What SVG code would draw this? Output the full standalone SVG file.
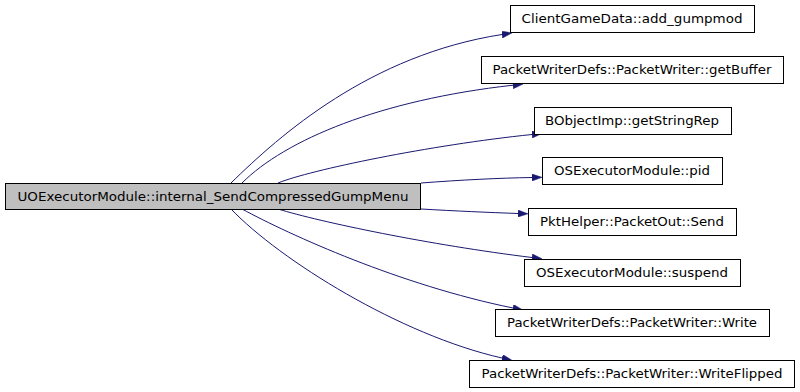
<svg xmlns="http://www.w3.org/2000/svg" width="800" height="392" viewBox="0 0 800 392">
<style>
.box{fill:#ffffff;stroke:#000000;stroke-width:1}
.main{fill:#bfbfbf;stroke:#000000;stroke-width:1}
.lbl{font-family:"DejaVu Sans",sans-serif;font-size:12.5px;fill:#000000;text-anchor:middle}
.edge{fill:none;stroke:#191970;stroke-width:1}
</style>
<defs>
<marker id="arr" viewBox="0 0 10 7" refX="0" refY="3.5" markerWidth="10" markerHeight="7" markerUnits="userSpaceOnUse" orient="auto">
<path d="M0,0 L10,3.5 L0,7 z" fill="#191970" stroke="#191970" stroke-width="0.5"/>
</marker>
</defs>
<rect x="0" y="0" width="800" height="392" fill="#ffffff"/>
<g id="connectors">
<path class="edge" marker-end="url(#arr)" d="M231,183 C280,135 370,55 502,34.5"/>
<path class="edge" marker-end="url(#arr)" d="M242,183 C285,140 380,100 513,85.2"/>
<path class="edge" marker-end="url(#arr)" d="M278,183 C310,170 430,145 532,134.5"/>
<path class="edge" marker-end="url(#arr)" d="M421,183 C460,180 500,178 532,177.5"/>
<path class="edge" marker-end="url(#arr)" d="M421,209 C455,211 490,212.5 518,213.5"/>
<path class="edge" marker-end="url(#arr)" d="M278,209 C320,222 430,245 532,257.5"/>
<path class="edge" marker-end="url(#arr)" d="M242,209 C290,235 400,285 513,308"/>
<path class="edge" marker-end="url(#arr)" d="M231,209 C280,260 400,335 502,358"/>
</g>
<g id="node-main">
<rect class="main" x="5.5" y="183.5" width="415" height="26"/>
<text class="lbl" x="213" y="201" textLength="391" lengthAdjust="spacingAndGlyphs">UOExecutorModule::internal_SendCompressedGumpMenu</text>
</g>
<g id="node-add_gumpmod">
<rect class="box" x="510.5" y="5.5" width="244" height="27"/>
<text class="lbl" x="632" y="23" textLength="221" lengthAdjust="spacingAndGlyphs">ClientGameData::add_gumpmod</text>
</g>
<g id="node-getBuffer">
<rect class="box" x="481.5" y="56.5" width="302" height="27"/>
<text class="lbl" x="632" y="74" textLength="279" lengthAdjust="spacingAndGlyphs">PacketWriterDefs::PacketWriter::getBuffer</text>
</g>
<g id="node-getStringRep">
<rect class="box" x="534.5" y="107.5" width="197" height="27"/>
<text class="lbl" x="632" y="125" textLength="174" lengthAdjust="spacingAndGlyphs">BObjectImp::getStringRep</text>
</g>
<g id="node-pid">
<rect class="box" x="542.5" y="157.5" width="180" height="27"/>
<text class="lbl" x="632" y="175" textLength="156" lengthAdjust="spacingAndGlyphs">OSExecutorModule::pid</text>
</g>
<g id="node-send">
<rect class="box" x="528.5" y="208.5" width="208" height="27"/>
<text class="lbl" x="632" y="226" textLength="184" lengthAdjust="spacingAndGlyphs">PktHelper::PacketOut::Send</text>
</g>
<g id="node-suspend">
<rect class="box" x="524.5" y="259.5" width="216" height="27"/>
<text class="lbl" x="632" y="277" textLength="192" lengthAdjust="spacingAndGlyphs">OSExecutorModule::suspend</text>
</g>
<g id="node-write">
<rect class="box" x="495.5" y="309.5" width="274" height="27"/>
<text class="lbl" x="632" y="327" textLength="250" lengthAdjust="spacingAndGlyphs">PacketWriterDefs::PacketWriter::Write</text>
</g>
<g id="node-writeflipped">
<rect class="box" x="469.5" y="360.5" width="325" height="27"/>
<text class="lbl" x="632" y="378" textLength="301" lengthAdjust="spacingAndGlyphs">PacketWriterDefs::PacketWriter::WriteFlipped</text>
</g>
</svg>
